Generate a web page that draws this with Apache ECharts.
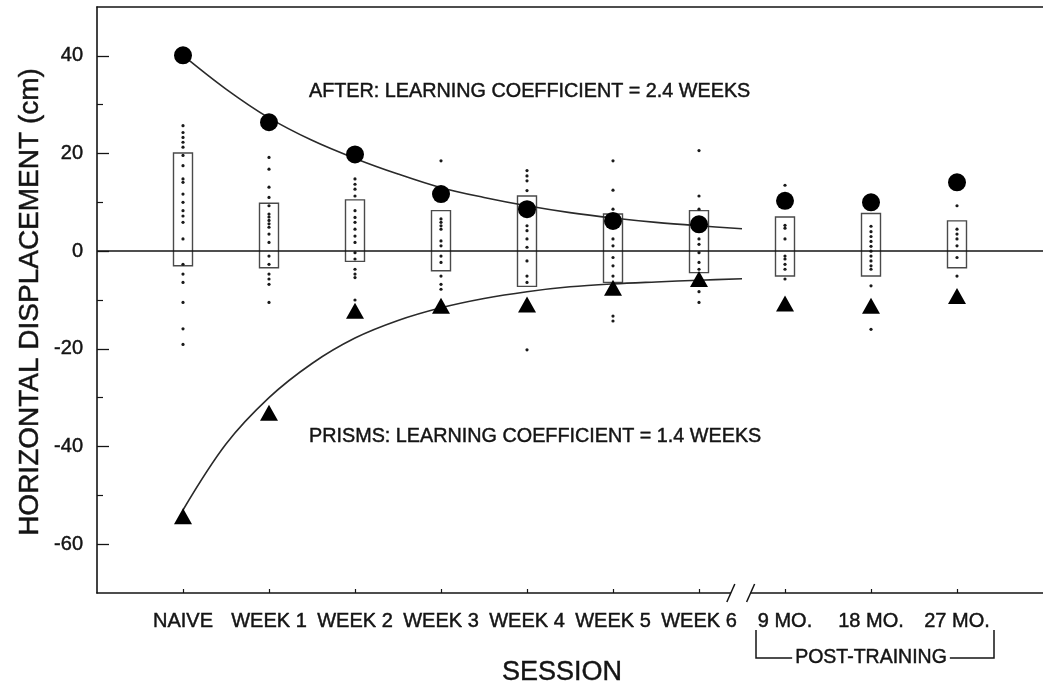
<!DOCTYPE html>
<html>
<head>
<meta charset="utf-8">
<script src="https://cdn.jsdelivr.net/npm/echarts@6/dist/echarts.min.js"></script>
<style>
  html, body { margin: 0; padding: 0; background: #ffffff; }
  #chart { width: 1043px; height: 690px; }
</style>
</head>
<body>
<div id="chart"></div>
<script>
// Sessions along the horizontal axis (index 0..9)
const sessions = ['NAIVE', 'WEEK 1', 'WEEK 2', 'WEEK 3', 'WEEK 4', 'WEEK 5', 'WEEK 6', '9 MO.', '18 MO.', '27 MO.'];

// Y-axis labelled ticks and short minor ticks (cm)
const yMajorTicks = [-60, -40, -20, 0, 20, 40];
const yMinorTicks = [-50, -30, -10, 10, 30];

// Mean horizontal displacement with prisms off (AFTER) and on (PRISMS), cm
const afterMeans = [40.1, 26.4, 19.8, 11.7, 8.6, 6.2, 5.5, 10.3, 10.0, 14.1];
const prismMeans = [-54.3, -33.1, -12.2, -11.2, -10.9, -7.5, -5.7, -10.7, -11.2, -9.2];

// Normal-viewing range box for each session (top / bottom), cm
const boxTop = [20.1, 9.8, 10.5, 8.3, 11.3, 7.6, 8.3, 7.0, 7.7, 6.2];
const boxBottom = [-3.0, -3.4, -2.1, -4.0, -7.2, -6.4, -4.4, -5.1, -5.1, -3.4];

// Individual throws per session, cm
const dotsNaive = [25.7, 24.3, 23.3, 22.3, 21.3, 19.6, 17.5, 14.8, 14.1, 11.7, 10.0, 8.3, 7.2, 5.9, 2.5, -2.7, -4.7, -6.4, -10.5, -15.9, -19.1];
const dotsWeek1 = [19.2, 16.8, 13.1, 11.0, 9.3, 7.6, 7.0, 6.3, 5.6, 4.9, 3.5, 1.8, -1.0, -2.7, -4.7, -5.7, -6.8, -10.5];
const dotsWeek2 = [14.8, 13.7, 12.7, 11.3, 8.3, 6.9, 5.9, 4.5, 3.1, 1.8, -0.3, -1.6, -3.7, -4.7, -5.4, -10.0];
const dotsWeek3 = [18.5, 6.6, 5.9, 5.2, 4.5, 2.1, 1.1, -1.0, -2.3, -5.1, -6.8, -7.8];
const dotsWeek4 = [16.5, 15.4, 14.4, 12.4, 5.2, 4.2, 2.5, 0.8, -2.0, -5.1, -6.4, -20.2];
const dotsWeek5 = [18.5, 12.5, 8.6, 2.5, 1.1, -1.3, -3.0, -5.1, -13.3, -14.3];
const dotsWeek6 = [20.6, 11.3, 8.6, 2.5, 1.4, -0.3, -2.3, -3.7, -8.3, -10.5];
const dots9Mo = [13.5, 5.3, 4.7, 2.5, -1.0, -1.6, -2.7, -3.7, -5.7];
const dots18Mo = [5.1, 4.0, 3.0, 2.0, 1.0, 0.0, -1.0, -2.0, -3.0, -3.7, -7.1, -16.0];
const dots27Mo = [9.3, 4.5, 3.5, 2.5, 1.1, -1.3, -5.1];

// Fitted learning curves, read as [session position, cm]
const afterCurve = [[0, 40.1], [0.5, 33.2], [1, 27.3], [1.5, 22.7], [2, 19.0], [2.5, 15.8], [3, 13.0], [3.5, 11.0], [4, 9.3], [4.5, 7.9], [5, 6.8], [5.5, 5.9], [6, 5.2], [6.5, 4.6]];
const prismCurve = [[0, -53.0], [0.5, -39.5], [1, -30.0], [1.5, -23.0], [2, -17.8], [2.5, -14.2], [3, -11.6], [3.5, -9.7], [4, -8.3], [4.5, -7.3], [5, -6.7], [5.5, -6.3], [6, -5.95], [6.5, -5.65]];

// Axis break between training weeks and post-training follow-ups
const breakFrom = 6.37;
const breakTo = 6.6;

const FONT = '"Liberation Sans", Arial, Helvetica, sans-serif';
const INK = '#141414';
const TEXT_EDGE = 0.45;

const dotGroups = [dotsNaive, dotsWeek1, dotsWeek2, dotsWeek3, dotsWeek4, dotsWeek5, dotsWeek6, dots9Mo, dots18Mo, dots27Mo];
const dotData = [];
dotGroups.forEach((g, i) => g.forEach(v => dotData.push([i, v])));

const chart = echarts.init(document.getElementById('chart'), null, { renderer: 'canvas' });

const labelStyle = { color: INK, fontFamily: FONT, fontSize: 20, textBorderColor: INK, textBorderWidth: TEXT_EDGE };

chart.setOption({
  animation: false,
  backgroundColor: '#ffffff',
  grid: { left: 97, right: -12, top: 7, bottom: 97, containLabel: false },
  xAxis: [
    {
      type: 'value', min: -1, max: 10, interval: 1, position: 'bottom',
      axisLine: { show: true, onZero: false, lineStyle: { color: INK, width: 1.6 } },
      axisTick: { show: true, inside: true, length: 4, customValues: [0, 1, 2, 3, 4, 5, 6, 7, 8, 9], lineStyle: { color: INK, width: 1.2 } },
      axisLabel: Object.assign({
        show: true, customValues: [0, 1, 2, 3, 4, 5, 6, 7, 8, 9], margin: 18,
        formatter: v => sessions[v] || ''
      }, labelStyle),
      splitLine: { show: false }
    },
    {
      type: 'value', min: -1, max: 10, position: 'top',
      axisLine: { show: true, onZero: false, lineStyle: { color: INK, width: 1.6 } },
      axisTick: { show: false }, axisLabel: { show: false }, splitLine: { show: false }
    }
  ],
  yAxis: [
    {
      type: 'value', min: -70, max: 50, interval: 10, position: 'left',
      axisLine: { show: true, onZero: false, lineStyle: { color: INK, width: 1.6 } },
      axisTick: { show: true, inside: true, length: 12, customValues: yMajorTicks, lineStyle: { color: INK, width: 1.3 } },
      axisLabel: Object.assign({ show: true, customValues: yMajorTicks, margin: 14 }, labelStyle),
      splitLine: { show: false }
    },
    {
      type: 'value', min: -70, max: 50, interval: 10, position: 'left', offset: 0,
      axisLine: { show: false, onZero: false },
      axisTick: { show: true, inside: true, length: 6, customValues: yMinorTicks, lineStyle: { color: INK, width: 1.2 } },
      axisLabel: { show: false },
      splitLine: { show: false }
    }
  ],
  series: [
    {
      name: 'range',
      type: 'custom',
      data: sessions.map((_, i) => [i, boxTop[i], boxBottom[i]]),
      renderItem: (params, api) => {
        const t = api.coord([api.value(0), api.value(1)]);
        const b = api.coord([api.value(0), api.value(2)]);
        const w = 19;
        return {
          type: 'rect',
          shape: { x: t[0] - w / 2, y: t[1], width: w, height: b[1] - t[1] },
          style: { fill: 'none', stroke: '#4a4a4a', lineWidth: 1.4 }
        };
      },
      z: 2
    },
    {
      name: 'throws',
      type: 'scatter',
      data: dotData,
      symbol: 'circle',
      symbolSize: 3.2,
      itemStyle: { color: '#1a1a1a', opacity: 1 },
      z: 3
    },
    {
      name: 'zero',
      type: 'line',
      data: [],
      markLine: {
        silent: true, symbol: 'none', animation: false,
        label: { show: false },
        lineStyle: { color: INK, width: 1.6, type: 'solid' },
        data: [{ yAxis: 0 }]
      },
      z: 4
    },
    {
      name: 'AFTER fit',
      type: 'line',
      data: afterCurve,
      smooth: 0.35,
      showSymbol: false,
      lineStyle: { color: '#2a2a2a', width: 1.6 },
      z: 5
    },
    {
      name: 'PRISMS fit',
      type: 'line',
      data: prismCurve,
      smooth: 0.35,
      showSymbol: false,
      lineStyle: { color: '#2a2a2a', width: 1.6 },
      z: 5
    },
    {
      name: 'AFTER',
      type: 'scatter',
      data: afterMeans.map((v, i) => [i, v]),
      symbol: 'circle',
      symbolSize: 18,
      itemStyle: { color: '#000000', opacity: 1 },
      z: 6
    },
    {
      name: 'PRISMS',
      type: 'scatter',
      data: prismMeans.map((v, i) => [i, v]),
      symbol: 'triangle',
      symbolSize: [18, 16],
      itemStyle: { color: '#000000', opacity: 1 },
      z: 6
    }
  ]
});

// Decorations placed through the axis scales: axis break and post-training bracket
function px(x, y) { return chart.convertToPixel({ xAxisIndex: 0, yAxisIndex: 0 }, [x, y]); }
const bL = px(breakFrom, -70);
const bR = px(breakTo, -70);
const yAxisBase = bL[1];
const p9 = px(7, -70)[0];
const p18 = px(8, -70)[0];
const p27 = px(9, -70)[0];
const brL = p9 - 29, brR = p27 + 37, brTop = yAxisBase + 37, brBot = yAxisBase + 65;

function textStyle(text, size, align) {
  return { text: text, fill: INK, stroke: INK, lineWidth: TEXT_EDGE, font: size + 'px ' + FONT, align: align, verticalAlign: 'middle' };
}

chart.setOption({
  graphic: [
    // gap in the bottom axis
    { type: 'rect', shape: { x: bL[0], y: yAxisBase - 3, width: bR[0] - bL[0], height: 6 }, style: { fill: '#ffffff' }, z: 100 },
    { type: 'line', shape: { x1: bL[0] - 4, y1: yAxisBase + 9, x2: bL[0] + 4, y2: yAxisBase - 9 }, style: { stroke: INK, lineWidth: 1.5 }, z: 101 },
    { type: 'line', shape: { x1: bR[0] - 4, y1: yAxisBase + 9, x2: bR[0] + 4, y2: yAxisBase - 9 }, style: { stroke: INK, lineWidth: 1.5 }, z: 101 },
    // post-training bracket
    { type: 'polyline', shape: { points: [[brL, brTop], [brL, brBot], [brR, brBot], [brR, brTop]] }, style: { stroke: INK, lineWidth: 1.5, fill: 'none' }, z: 100 },
    {
      type: 'text', x: p18, y: brBot, z: 101,
      style: Object.assign(textStyle('POST-TRAINING', 19.5, 'center'), { backgroundColor: '#ffffff', padding: [0, 3] })
    },
    // annotations for the two fitted curves
    { type: 'text', x: 309, y: 92, z: 101, style: textStyle('AFTER: LEARNING COEFFICIENT = 2.4 WEEKS', 19.8, 'left') },
    { type: 'text', x: 309, y: 437, z: 101, style: textStyle('PRISMS: LEARNING COEFFICIENT = 1.4 WEEKS', 19.8, 'left') },
    // axis titles
    { type: 'text', x: 30, y: 302, rotation: Math.PI / 2, z: 101, style: textStyle('HORIZONTAL DISPLACEMENT (cm)', 28, 'center') },
    { type: 'text', x: 562, y: 673, z: 101, style: textStyle('SESSION', 27, 'center') }
  ]
});
</script>
</body>
</html>
